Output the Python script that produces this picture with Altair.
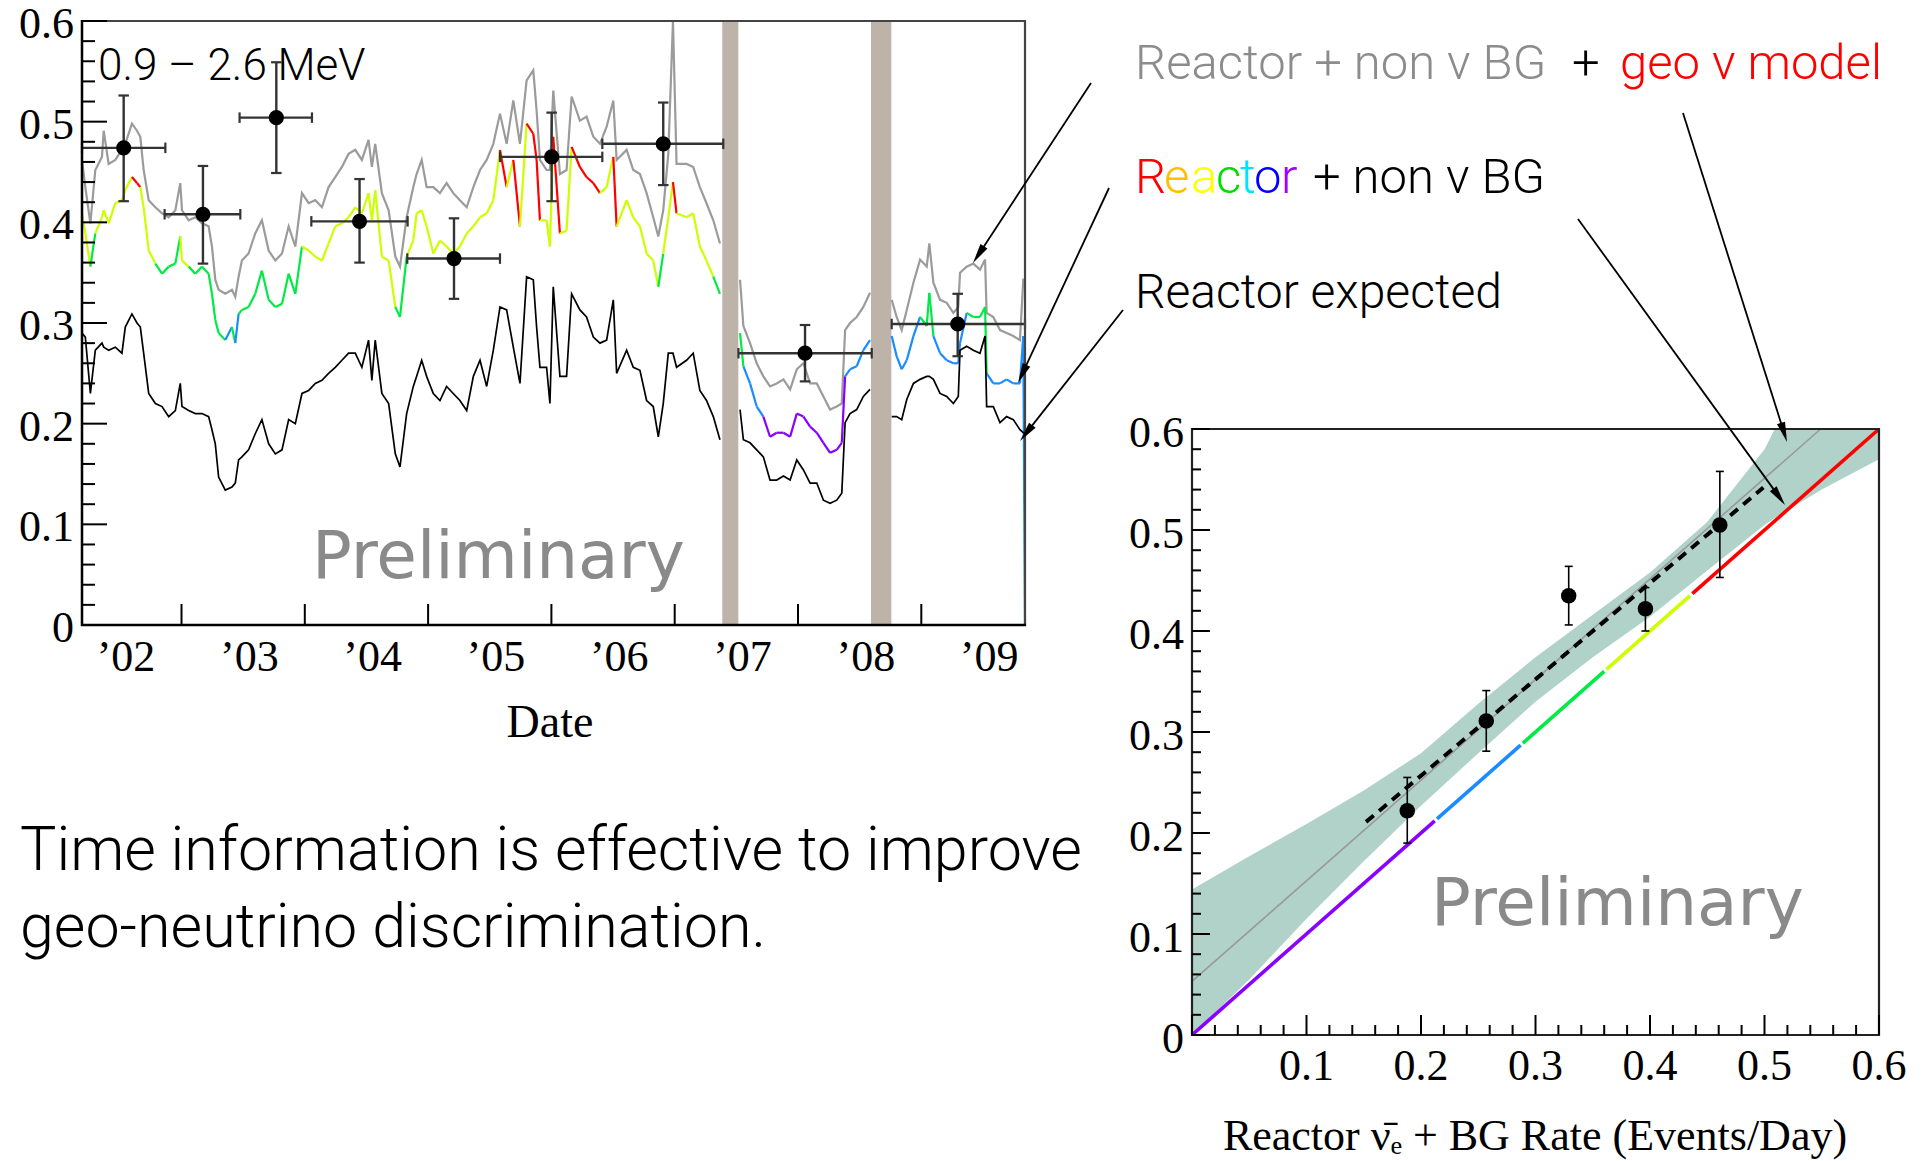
import math
import altair as alt
import pandas as pd

W, H = 1923, 1161
SERIF = "Liberation Serif"
SANS = "Roboto"

# ---------------------------------------------------------------------------
# Left panel: 0.9-2.6 MeV event rate (events/day) versus date.
# Three running periods, separated by the two purification campaigns.
# ---------------------------------------------------------------------------
t1 = [2001.643, 2001.670, 2001.711, 2001.751, 2001.805, 2001.819, 2001.859, 2001.913, 2001.967, 2001.994,
      2002.048, 2002.089, 2002.116, 2002.143, 2002.184, 2002.238, 2002.292, 2002.346, 2002.400, 2002.440,
      2002.454, 2002.508, 2002.562, 2002.616, 2002.670, 2002.697, 2002.724, 2002.751, 2002.805, 2002.859,
      2002.886, 2002.913, 2002.940, 2002.994, 2003.048, 2003.102, 2003.157, 2003.211, 2003.265, 2003.319,
      2003.373, 2003.427, 2003.481, 2003.535, 2003.589, 2003.643, 2003.697, 2003.751, 2003.805, 2003.859,
      2003.913, 2003.967, 2003.994, 2004.021, 2004.075, 2004.130, 2004.184,
      2004.222, 2004.276, 2004.330, 2004.357, 2004.398, 2004.438, 2004.492, 2004.546, 2004.600, 2004.654,
      2004.708, 2004.763, 2004.817, 2004.871, 2004.925, 2004.979, 2005.033, 2005.087, 2005.141, 2005.195,
      2005.249, 2005.303, 2005.330, 2005.357, 2005.411, 2005.438, 2005.465, 2005.519, 2005.573, 2005.614,
      2005.681, 2005.735, 2005.790, 2005.844, 2005.898, 2005.952, 2005.979, 2006.060, 2006.114, 2006.168,
      2006.222, 2006.276, 2006.317, 2006.357, 2006.398, 2006.436, 2006.465, 2006.546, 2006.600, 2006.654,
      2006.708, 2006.763, 2006.817]
# reactor + non-nu BG + geo-nu model
sum1 = [0.462, 0.435, 0.399, 0.452, 0.465, 0.491, 0.458, 0.462, 0.472, 0.478,
        0.498, 0.491, 0.485, 0.452, 0.422, 0.415, 0.409, 0.405, 0.412, 0.439,
        0.412, 0.402, 0.405, 0.399, 0.396, 0.376, 0.343, 0.333, 0.329, 0.333,
        0.326, 0.346, 0.362, 0.369, 0.389, 0.402, 0.372, 0.362, 0.369, 0.396,
        0.376, 0.429, 0.419, 0.422, 0.415, 0.435, 0.445, 0.455, 0.468, 0.472,
        0.462, 0.482, 0.455, 0.478, 0.429, 0.412, 0.366,
        0.356, 0.405, 0.435, 0.448, 0.462, 0.435, 0.435, 0.429, 0.439, 0.429,
        0.422, 0.415, 0.435, 0.452, 0.462, 0.478, 0.508, 0.478, 0.521, 0.478,
        0.541, 0.551, 0.511, 0.462, 0.452, 0.452, 0.531, 0.448, 0.452, 0.525,
        0.501, 0.505, 0.485, 0.478, 0.495, 0.521, 0.462, 0.472, 0.452, 0.448,
        0.429, 0.405, 0.386, 0.412, 0.468, 0.600, 0.458, 0.458, 0.455, 0.435,
        0.419, 0.402, 0.379]
# reactor + non-nu BG
rbg1 = [0.409, 0.389, 0.356, 0.389, 0.405, 0.412, 0.399, 0.419, 0.422, 0.432,
        0.445, 0.439, 0.435, 0.415, 0.372, 0.359, 0.349, 0.356, 0.359, 0.386,
        0.362, 0.356, 0.349, 0.356, 0.349, 0.329, 0.303, 0.290, 0.283, 0.296,
        0.280, 0.309, 0.313, 0.316, 0.329, 0.352, 0.323, 0.316, 0.319, 0.349,
        0.329, 0.376, 0.372, 0.366, 0.362, 0.379, 0.396, 0.399, 0.405, 0.415,
        0.409, 0.429, 0.402, 0.432, 0.366, 0.362, 0.316,
        0.306, 0.366, 0.382, 0.409, 0.412, 0.396, 0.369, 0.382, 0.376, 0.369,
        0.376, 0.389, 0.396, 0.405, 0.409, 0.422, 0.472, 0.435, 0.462, 0.396,
        0.498, 0.488, 0.462, 0.402, 0.402, 0.376, 0.485, 0.389, 0.392, 0.475,
        0.455, 0.445, 0.439, 0.429, 0.435, 0.465, 0.396, 0.422, 0.405, 0.396,
        0.369, 0.362, 0.336, 0.369, 0.405, 0.440, 0.409, 0.405, 0.409, 0.376,
        0.362, 0.346, 0.329]
# reactor expected
rx1 = [0.290, 0.286, 0.230, 0.273, 0.280, 0.276, 0.273, 0.276, 0.270, 0.296,
       0.309, 0.300, 0.296, 0.270, 0.230, 0.220, 0.217, 0.207, 0.213, 0.240,
       0.217, 0.213, 0.210, 0.210, 0.207, 0.194, 0.180, 0.147, 0.134, 0.137,
       0.141, 0.164, 0.167, 0.174, 0.190, 0.204, 0.180, 0.170, 0.174, 0.204,
       0.200, 0.230, 0.233, 0.240, 0.243, 0.250, 0.256, 0.263, 0.270, 0.270,
       0.256, 0.283, 0.243, 0.283, 0.230, 0.220, 0.170,
       0.157, 0.210, 0.237, 0.247, 0.263, 0.247, 0.230, 0.223, 0.237, 0.230,
       0.223, 0.213, 0.247, 0.263, 0.237, 0.273, 0.316, 0.313, 0.276, 0.240,
       0.346, 0.343, 0.296, 0.256, 0.256, 0.220, 0.336, 0.247, 0.247, 0.329,
       0.313, 0.306, 0.286, 0.280, 0.283, 0.323, 0.250, 0.273, 0.256, 0.253,
       0.223, 0.217, 0.187, 0.220, 0.270, 0.270, 0.256, 0.263, 0.270, 0.233,
       0.223, 0.207, 0.184]

t2 = [2006.980, 2007.007, 2007.061, 2007.115, 2007.169, 2007.223, 2007.277, 2007.332, 2007.386, 2007.440,
      2007.494, 2007.548, 2007.602, 2007.656, 2007.710, 2007.764, 2007.805, 2007.832, 2007.872, 2007.926,
      2007.980, 2008.034]
sum2 = [0.343, 0.297, 0.280, 0.260, 0.247, 0.237, 0.240, 0.244, 0.234, 0.254,
        0.260, 0.240, 0.240, 0.227, 0.214, 0.217, 0.220, 0.293, 0.300, 0.306,
        0.316, 0.330]
rbg2 = [0.290, 0.257, 0.240, 0.217, 0.207, 0.187, 0.191, 0.191, 0.187, 0.210,
        0.207, 0.197, 0.191, 0.181, 0.171, 0.174, 0.181, 0.247, 0.254, 0.257,
        0.273, 0.283]
rx2 = [0.214, 0.184, 0.181, 0.174, 0.167, 0.144, 0.144, 0.148, 0.144, 0.164,
       0.154, 0.141, 0.141, 0.124, 0.121, 0.124, 0.131, 0.201, 0.210, 0.214,
       0.227, 0.234]

t3 = [2008.210, 2008.250, 2008.291, 2008.332, 2008.386, 2008.440, 2008.494, 2008.515, 2008.548, 2008.602,
      2008.656, 2008.710, 2008.750, 2008.764, 2008.818, 2008.872, 2008.926, 2008.967, 2008.980, 2009.034,
      2009.088, 2009.142, 2009.196, 2009.250, 2009.277, 2009.291]
sum3 = [0.323, 0.306, 0.293, 0.313, 0.340, 0.363, 0.356, 0.379, 0.340, 0.323,
        0.320, 0.310, 0.316, 0.350, 0.356, 0.359, 0.353, 0.363, 0.310, 0.306,
        0.293, 0.290, 0.287, 0.283, 0.343, 0.343]
rbg3 = [0.287, 0.267, 0.254, 0.263, 0.287, 0.306, 0.297, 0.330, 0.287, 0.270,
        0.263, 0.260, 0.260, 0.280, 0.310, 0.306, 0.306, 0.316, 0.250, 0.240,
        0.240, 0.244, 0.240, 0.240, 0.287, 0.000]
rx3 = [0.207, 0.207, 0.204, 0.224, 0.240, 0.244, 0.247, 0.247, 0.244, 0.230,
       0.227, 0.220, 0.227, 0.273, 0.277, 0.273, 0.270, 0.287, 0.217, 0.217,
       0.201, 0.207, 0.204, 0.194, 0.191, 0.191]

# purification periods (no data)
gap_lo = [2006.836, 2008.042]
gap_hi = [2006.966, 2008.207]

# measured rate per time bin
obs_t = [2001.981, 2002.624, 2003.219, 2003.894, 2004.660, 2005.452, 2006.357, 2007.507, 2008.745]
obs_v = [0.474, 0.408, 0.504, 0.401, 0.364, 0.465, 0.478, 0.270, 0.299]
obs_t_lo = [2001.643, 2002.313, 2002.921, 2003.503, 2004.281, 2005.033, 2005.863, 2006.967, 2008.210]
obs_t_hi = [2002.319, 2002.927, 2003.508, 2004.284, 2005.033, 2005.863, 2006.844, 2008.048, 2009.291]
obs_v_lo = [0.421, 0.359, 0.449, 0.360, 0.324, 0.421, 0.437, 0.242, 0.267]
obs_v_hi = [0.526, 0.456, 0.559, 0.443, 0.404, 0.509, 0.519, 0.298, 0.329]

year_ticks = [2002.45, 2003.45, 2004.45, 2005.45, 2006.45, 2007.45, 2008.45]
year_label_pos = [2002, 2003, 2004, 2005, 2006, 2007, 2008, 2009]
year_labels = ["\u201902", "\u201903", "\u201904", "\u201905", "\u201906", "\u201907", "\u201908", "\u201909"]

# ---------------------------------------------------------------------------
# Right panel: observed rate vs. reactor + BG rate
# ---------------------------------------------------------------------------
cmp_x = [0.188, 0.257, 0.329, 0.396, 0.461]
cmp_y = [0.222, 0.311, 0.435, 0.422, 0.505]
cmp_y_lo = [0.190, 0.281, 0.406, 0.400, 0.453]
cmp_y_hi = [0.255, 0.341, 0.464, 0.443, 0.558]

band_x = [0.000, 0.050, 0.100, 0.150, 0.200, 0.250, 0.300, 0.350, 0.400, 0.450, 0.500, 0.509, 0.550, 0.600]
band_hi = [0.144, 0.177, 0.209, 0.242, 0.279, 0.328, 0.374, 0.416, 0.458, 0.508, 0.580, 0.600, 0.600, 0.600]
band_lo = [0.000, 0.055, 0.115, 0.172, 0.227, 0.279, 0.330, 0.374, 0.414, 0.460, 0.505, 0.512, 0.540, 0.570]

geo_x = [0.000, 0.549]
geo_y = [0.053, 0.600]
fit_x = [0.152, 0.499]
fit_y = [0.211, 0.542]

# reactor + BG expectation (diagonal), split by colour band
diag_lo = [0.000, 0.214, 0.289, 0.362, 0.437]
diag_hi = [0.212, 0.287, 0.360, 0.435, 0.600]

major = [0.0, 0.1, 0.2, 0.3, 0.4, 0.5, 0.6]
major_lab = ["0", "0.1", "0.2", "0.3", "0.4", "0.5", "0.6"]
minor = [round(i * 0.02, 2) for i in range(31) if i % 5]

# colour bands of the reactor + non-nu BG rate
BAND_EDGES = [0.214, 0.289, 0.361, 0.437]
BAND_NAMES = ["violet", "blue", "green", "yellow", "red"]
BAND_COLORS = ["#8a00ff", "#1a8cff", "#00ea45", "#ccff00", "#ff0000"]


def band_of(v):
    return BAND_NAMES[sum(v >= e for e in BAND_EDGES)]


# ---------------------------------------------------------------------------
# scales (each panel positioned on the slide through its range)
# ---------------------------------------------------------------------------
LX = ([2001.643, 2009.291], [82, 1025])
LY = ([0.0, 0.6], [625, 21])
RX = ([0.0, 0.6], [1192, 1879])
RY = ([0.0, 0.6], [1035, 429])


def sc(s):
    return alt.Scale(domain=s[0], range=s[1], zero=False, nice=False)


def X(f, s):
    return alt.X(f, type="quantitative", scale=sc(s), axis=None)


def Y(f, s):
    return alt.Y(f, type="quantitative", scale=sc(s), axis=None)


def runs(ts, vs):
    rows = []
    for k, (tt, vv) in enumerate(zip(ts, vs)):
        rows += [{"t": a, "v": b, "run": k} for a, b in zip(tt, vv)]
    return pd.DataFrame(rows)


sum_df = runs([t1, t2, t3], [sum1, sum2, sum3])
rx_df = runs([t1, t2, t3], [rx1, rx2, rx3])

seg_rows = []
for tt, vv in zip([t1, t2, t3], [rbg1, rbg2, rbg3]):
    for i in range(len(tt) - 1):
        seg_rows.append({"t": tt[i], "v": vv[i], "t2": tt[i + 1], "v2": vv[i + 1], "band": band_of(vv[i])})
rbg_df = pd.DataFrame(seg_rows)

gap_df = pd.DataFrame({"lo": gap_lo, "hi": gap_hi, "y0": 0.0, "y1": 0.6})
obs_df = pd.DataFrame({"t": obs_t, "v": obs_v, "tlo": obs_t_lo, "thi": obs_t_hi,
                       "vlo": obs_v_lo, "vhi": obs_v_hi})
cmp_df = pd.DataFrame({"x": cmp_x, "y": cmp_y, "ylo": cmp_y_lo, "yhi": cmp_y_hi})
band_df = pd.DataFrame({"x": band_x, "lo": band_lo, "hi": band_hi})
geo_df = pd.DataFrame({"x": geo_x, "y": geo_y})
fit_df = pd.DataFrame({"x": [fit_x[0]], "y": [fit_y[0]], "x2": [fit_x[1]], "y2": [fit_y[1]]})
diag_df = pd.DataFrame({"a": diag_lo, "b": diag_hi, "band": BAND_NAMES})
maj_df = pd.DataFrame({"v": major, "lab": major_lab})
min_df = pd.DataFrame({"v": minor})
yt_df = pd.DataFrame({"t": year_ticks})
yl_df = pd.DataFrame({"t": year_label_pos, "lab": year_labels})
frame_df = pd.DataFrame({"a": [0.0], "b": [0.6]})
lframe_df = pd.DataFrame({"a": [LX[0][0]], "b": [LX[0][1]], "c": [0.0], "d": [0.6]})
one = pd.DataFrame({"k": [0]})

band_color = alt.Color("band:N", scale=alt.Scale(domain=BAND_NAMES, range=BAND_COLORS), legend=None)

layers = []

# ---- left panel ----
layers.append(alt.Chart(gap_df).mark_rect(color="#bdb3a8").encode(
    x=X("lo", LX), x2="hi", y=Y("y0", LY), y2="y1"))
layers.append(alt.Chart(sum_df).mark_line(color="#9b9b9b", strokeWidth=2.2).encode(
    x=X("t", LX), y=Y("v", LY), detail="run:N"))
layers.append(alt.Chart(rbg_df).mark_rule(strokeWidth=2.2).encode(
    x=X("t", LX), x2="t2", y=Y("v", LY), y2="v2", color=band_color))
layers.append(alt.Chart(rx_df).mark_line(color="black", strokeWidth=1.7).encode(
    x=X("t", LX), y=Y("v", LY), detail="run:N"))

layers.append(alt.Chart(obs_df).mark_rule(color="#333333", strokeWidth=2.4).encode(
    x=X("tlo", LX), x2="thi", y=Y("v", LY)))
layers.append(alt.Chart(obs_df).mark_rule(color="#333333", strokeWidth=2.4).encode(
    x=X("t", LX), y=Y("vlo", LY), y2="vhi"))
for fx in ["tlo", "thi"]:
    layers.append(alt.Chart(obs_df).mark_point(shape="stroke", size=110, angle=90, color="#333333",
                                               strokeWidth=2.2, opacity=1).encode(
        x=X(fx, LX), y=Y("v", LY)))
for fy in ["vlo", "vhi"]:
    layers.append(alt.Chart(obs_df).mark_point(shape="stroke", size=110, color="#333333",
                                               strokeWidth=2.2, opacity=1).encode(
        x=X("t", LX), y=Y(fy, LY)))
layers.append(alt.Chart(obs_df).mark_circle(size=230, color="black", opacity=1).encode(
    x=X("t", LX), y=Y("v", LY)))

layers.append(alt.Chart(lframe_df).mark_rect(fillOpacity=0, stroke="#444444", strokeWidth=2.2).encode(
    x=X("a", LX), x2="b", y=Y("c", LY), y2="d"))
layers.append(alt.Chart(one).mark_rule(color="black", strokeWidth=2.4).encode(
    x=alt.value(82), y=alt.value(20), y2=alt.value(626)))
layers.append(alt.Chart(one).mark_rule(color="black", strokeWidth=2.4).encode(
    x=alt.value(81), x2=alt.value(1026), y=alt.value(625)))
layers.append(alt.Chart(maj_df).mark_rule(color="black", strokeWidth=2).encode(
    x=alt.value(82), x2=alt.value(107), y=Y("v", LY)))
layers.append(alt.Chart(min_df).mark_rule(color="black", strokeWidth=2).encode(
    x=alt.value(82), x2=alt.value(95), y=Y("v", LY)))
layers.append(alt.Chart(yt_df).mark_rule(color="black", strokeWidth=2).encode(
    x=X("t", LX), y=alt.value(625), y2=alt.value(604)))
layers.append(alt.Chart(maj_df).mark_text(font=SERIF, fontSize=44, align="right", baseline="middle",
                                          dy=4, color="black").encode(
    x=alt.value(74), y=Y("v", LY), text="lab:N"))
layers.append(alt.Chart(yl_df).mark_text(font=SERIF, fontSize=44, align="center", baseline="alphabetic",
                                         color="black").encode(
    x=X("t", LX), y=alt.value(671), text="lab:N"))

# ---- right panel ----
layers.append(alt.Chart(band_df).mark_area(color="#b0d2c8", opacity=1).encode(
    x=X("x", RX), y=Y("lo", RY), y2="hi"))
layers.append(alt.Chart(geo_df).mark_line(color="#999999", strokeWidth=1.6).encode(
    x=X("x", RX), y=Y("y", RY)))
layers.append(alt.Chart(diag_df).mark_rule(strokeWidth=3.6).encode(
    x=X("a", RX), x2="b", y=Y("a", RY), y2="b", color=band_color))
layers.append(alt.Chart(fit_df).mark_rule(color="black", strokeWidth=4, strokeDash=[10, 7]).encode(
    x=X("x", RX), x2="x2", y=Y("y", RY), y2="y2"))
layers.append(alt.Chart(cmp_df).mark_rule(color="black", strokeWidth=1.6).encode(
    x=X("x", RX), y=Y("ylo", RY), y2="yhi"))
for fy in ["ylo", "yhi"]:
    layers.append(alt.Chart(cmp_df).mark_point(shape="stroke", size=64, color="black",
                                               strokeWidth=1.6, opacity=1).encode(
        x=X("x", RX), y=Y(fy, RY)))
layers.append(alt.Chart(cmp_df).mark_circle(size=240, color="black", opacity=1).encode(
    x=X("x", RX), y=Y("y", RY)))

layers.append(alt.Chart(frame_df).mark_rect(fillOpacity=0, stroke="#222222", strokeWidth=2.2).encode(
    x=X("a", RX), x2="b", y=Y("a", RY), y2="b"))
layers.append(alt.Chart(maj_df).mark_rule(color="black", strokeWidth=2).encode(
    x=alt.value(1192), x2=alt.value(1210), y=Y("v", RY)))
layers.append(alt.Chart(min_df).mark_rule(color="black", strokeWidth=2).encode(
    x=alt.value(1192), x2=alt.value(1201), y=Y("v", RY)))
layers.append(alt.Chart(maj_df).mark_rule(color="black", strokeWidth=2).encode(
    x=X("v", RX), y=alt.value(1035), y2=alt.value(1015)))
layers.append(alt.Chart(min_df).mark_rule(color="black", strokeWidth=2).encode(
    x=X("v", RX), y=alt.value(1035), y2=alt.value(1025)))
layers.append(alt.Chart(maj_df).mark_text(font=SERIF, fontSize=44, align="right", baseline="middle",
                                          dy=5, color="black").encode(
    x=alt.value(1184), y=Y("v", RY), text="lab:N"))
layers.append(alt.Chart(maj_df[maj_df.v > 0]).mark_text(font=SERIF, fontSize=44, align="center",
                                                        baseline="alphabetic", color="black").encode(
    x=X("v", RX), y=alt.value(1080), text="lab:N"))


# ---- slide text ----
def txt(s, x, y, size, color="black", font=SANS, weight=300, align="left"):
    return alt.Chart(one).mark_text(text=s, fontSize=size, color=color, font=font, fontWeight=weight,
                                    align=align, baseline="alphabetic").encode(
        x=alt.value(x), y=alt.value(y))


layers.append(txt("0.9 \u2013 2.6 MeV", 98, 80, 44))
layers.append(txt("Preliminary", 312, 578, 66, color="#8a8a8a", font="DejaVu Sans", weight=400))
layers.append(txt("Preliminary", 1431, 925, 66, color="#8a8a8a", font="DejaVu Sans", weight=400))
layers.append(txt("Date", 550, 737, 46, font=SERIF, weight=400, align="center"))
layers.append(txt("Reactor \u03bd\u0304\u2091 + BG Rate (Events/Day)", 1535, 1150, 44, font=SERIF,
                  weight=400, align="center"))
layers.append(txt("Time information is effective to improve", 20, 870, 61))
layers.append(txt("geo-neutrino discrimination.", 20, 947, 61))

layers.append(txt("Reactor + non \u03bd BG", 1135, 79, 49, color="#8c8c8c"))
layers.append(txt("+", 1572, 79, 49))
layers.append(txt("geo \u03bd model", 1620, 79, 49, color="#ff0000"))

rainbow = [("R", 1135, "#ff0000"), ("e", 1164, "#ffc000"), ("a", 1191, "#ffff00"), ("c", 1216, "#00dd00"),
           ("t", 1240, "#00e5ff"), ("o", 1254, "#0000ff"), ("r", 1281, "#a000ff")]
for ch, x, c in rainbow:
    layers.append(txt(ch, x, 193, 49, color=c))
layers.append(txt("+ non \u03bd BG", 1313, 193, 49))
layers.append(txt("Reactor expected", 1135, 308, 48))

# ---- pointer arrows ----
HEAD = "M 0 -1 L 0.42 1 L -0.42 1 Z"
arrows = [((1091, 83), (973, 263)),
          ((1109, 188), (1018, 383)),
          ((1123, 310), (1020, 441)),
          ((1578, 219), (1785, 505)),
          ((1683, 113), (1787, 442))]
for (x0, y0), (x1, y1) in arrows:
    dx, dy = x1 - x0, y1 - y0
    L = math.hypot(dx, dy)
    ux, uy = dx / L, dy / L
    hx, hy = x1 - ux * 10, y1 - uy * 10
    ang = math.degrees(math.atan2(ux, -uy)) % 360
    layers.append(alt.Chart(one).mark_rule(color="black", strokeWidth=1.8).encode(
        x=alt.value(x0), y=alt.value(y0), x2=alt.value(hx), y2=alt.value(hy)))
    layers.append(alt.Chart(one).mark_point(shape=HEAD, size=400, angle=ang, filled=True, color="black",
                                            opacity=1, strokeWidth=0).encode(
        x=alt.value(hx), y=alt.value(hy)))

chart = alt.layer(*layers).resolve_scale(
    x="independent", y="independent", color="independent"
).properties(
    width=W, height=H, padding=0, background="white",
    autosize=alt.AutoSizeParams(type="none"),
).configure_view(stroke=None)

chart.save("out.html", embed_options={"renderer": "svg", "actions": False})
